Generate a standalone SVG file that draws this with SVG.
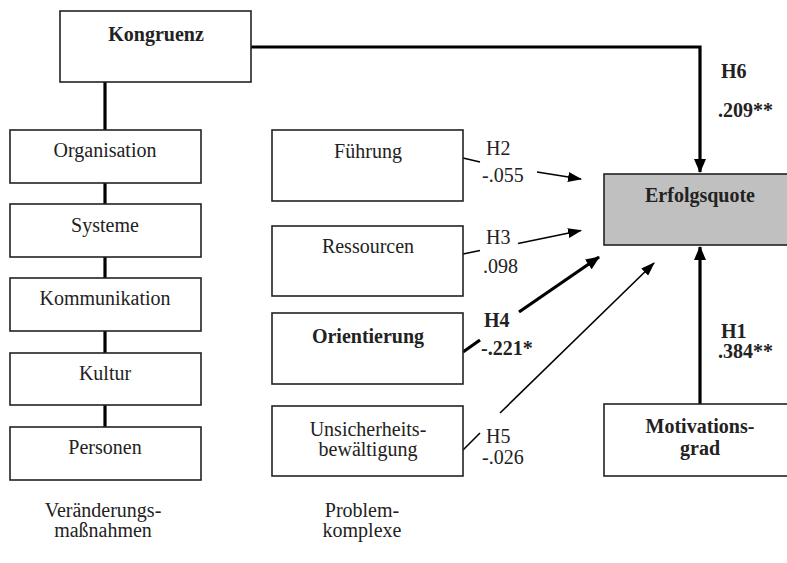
<svg xmlns="http://www.w3.org/2000/svg" width="787" height="563" viewBox="0 0 787 563">
<defs>
<marker id="ah" markerWidth="14" markerHeight="10" refX="13" refY="5" orient="auto" markerUnits="userSpaceOnUse"><path d="M0,0 L14,5 L0,10 Z" fill="#000"/></marker>
<marker id="ahb" markerWidth="14" markerHeight="12" refX="13" refY="6" orient="auto" markerUnits="userSpaceOnUse"><path d="M0,0 L14,6 L0,12 Z" fill="#000"/></marker>
</defs>
<style>
.box{fill:#fff;stroke:#222;stroke-width:1.6}
.gray{fill:#c0c0c0;stroke:#222;stroke-width:1.6}
text{font-family:"Liberation Serif","Times New Roman",serif;font-size:20px;fill:#222}
.c{text-anchor:middle}
.b{font-weight:bold}
.thick{stroke:#000;stroke-width:3.2;fill:none}
.thin{stroke:#000;stroke-width:1.6;fill:none}
</style>
<rect width="787" height="563" fill="#fff"/>
<g id="connectors">
<polyline class="thick" points="251,47 700,47 700,172" marker-end="url(#ahb)"/>
<line class="thick" x1="105" y1="82" x2="105" y2="130"/>
<line class="thick" x1="105" y1="183" x2="105" y2="204"/>
<line class="thick" x1="105" y1="257" x2="105" y2="278"/>
<line class="thick" x1="105" y1="331" x2="105" y2="353"/>
<line class="thick" x1="105" y1="405" x2="105" y2="427"/>
<line class="thin" x1="463" y1="158" x2="480" y2="162"/>
<line class="thin" x1="537" y1="172" x2="581" y2="179" marker-end="url(#ah)"/>
<line class="thin" x1="463" y1="254" x2="480" y2="250.5"/>
<line class="thin" x1="518" y1="243.5" x2="581" y2="230.5" marker-end="url(#ah)"/>
<line class="thick" x1="463" y1="352" x2="480" y2="340"/>
<line class="thick" x1="519" y1="312" x2="599" y2="257" marker-end="url(#ahb)"/>
<line class="thin" x1="463" y1="450" x2="480" y2="433"/>
<line class="thin" x1="500" y1="413" x2="654" y2="263" marker-end="url(#ah)"/>
<line class="thick" x1="700" y1="404" x2="700" y2="247" marker-end="url(#ahb)"/>
</g>
<g id="kongruenz"><rect class="box" x="60" y="11" width="191" height="71"/><text class="c b" x="156" y="41">Kongruenz</text></g>
<g id="organisation"><rect class="box" x="10" y="130" width="191" height="53"/><text class="c" x="105" y="157">Organisation</text></g>
<g id="systeme"><rect class="box" x="10" y="204" width="191" height="53"/><text class="c" x="105" y="232">Systeme</text></g>
<g id="kommunikation"><rect class="box" x="10" y="278" width="191" height="53"/><text class="c" x="105" y="305">Kommunikation</text></g>
<g id="kultur"><rect class="box" x="10" y="353" width="191" height="52"/><text class="c" x="105" y="380">Kultur</text></g>
<g id="personen"><rect class="box" x="10" y="427" width="191" height="53"/><text class="c" x="105" y="454">Personen</text></g>
<g id="fuehrung"><rect class="box" x="272" y="130" width="191" height="71"/><text class="c" x="368" y="158">Führung</text></g>
<g id="ressourcen"><rect class="box" x="272" y="226" width="191" height="70"/><text class="c" x="368" y="253">Ressourcen</text></g>
<g id="orientierung"><rect class="box" x="272" y="313" width="191" height="71"/><text class="c b" x="368" y="343">Orientierung</text></g>
<g id="unsicherheit"><rect class="box" x="272" y="406" width="191" height="70"/><text class="c" x="368" y="436">Unsicherheits-</text><text class="c" x="368" y="456">bewältigung</text></g>
<g id="erfolgsquote"><rect class="gray" x="604" y="174" width="200" height="71"/><text class="c b" x="700" y="202">Erfolgsquote</text></g>
<g id="motivationsgrad"><rect class="box" x="604" y="404" width="200" height="72"/><text class="c b" x="700" y="433">Motivations-</text><text class="c b" x="700" y="455">grad</text></g>
<g id="labels">
<text class="b" x="721" y="78">H6</text>
<text class="b" x="718" y="117">.209**</text>
<text x="486" y="155">H2</text>
<text x="482" y="182">-.055</text>
<text x="486" y="244">H3</text>
<text x="483" y="273">.098</text>
<text class="b" x="484" y="327">H4</text>
<text class="b" x="481" y="355">-.221*</text>
<text x="486" y="443">H5</text>
<text x="482" y="464">-.026</text>
<text class="b" x="721" y="338">H1</text>
<text class="b" x="718" y="358">.384**</text>
<text class="c" x="103" y="517">Veränderungs-</text>
<text class="c" x="103" y="537">maßnahmen</text>
<text class="c" x="362" y="517">Problem-</text>
<text class="c" x="362" y="537">komplexe</text>
</g>
</svg>
